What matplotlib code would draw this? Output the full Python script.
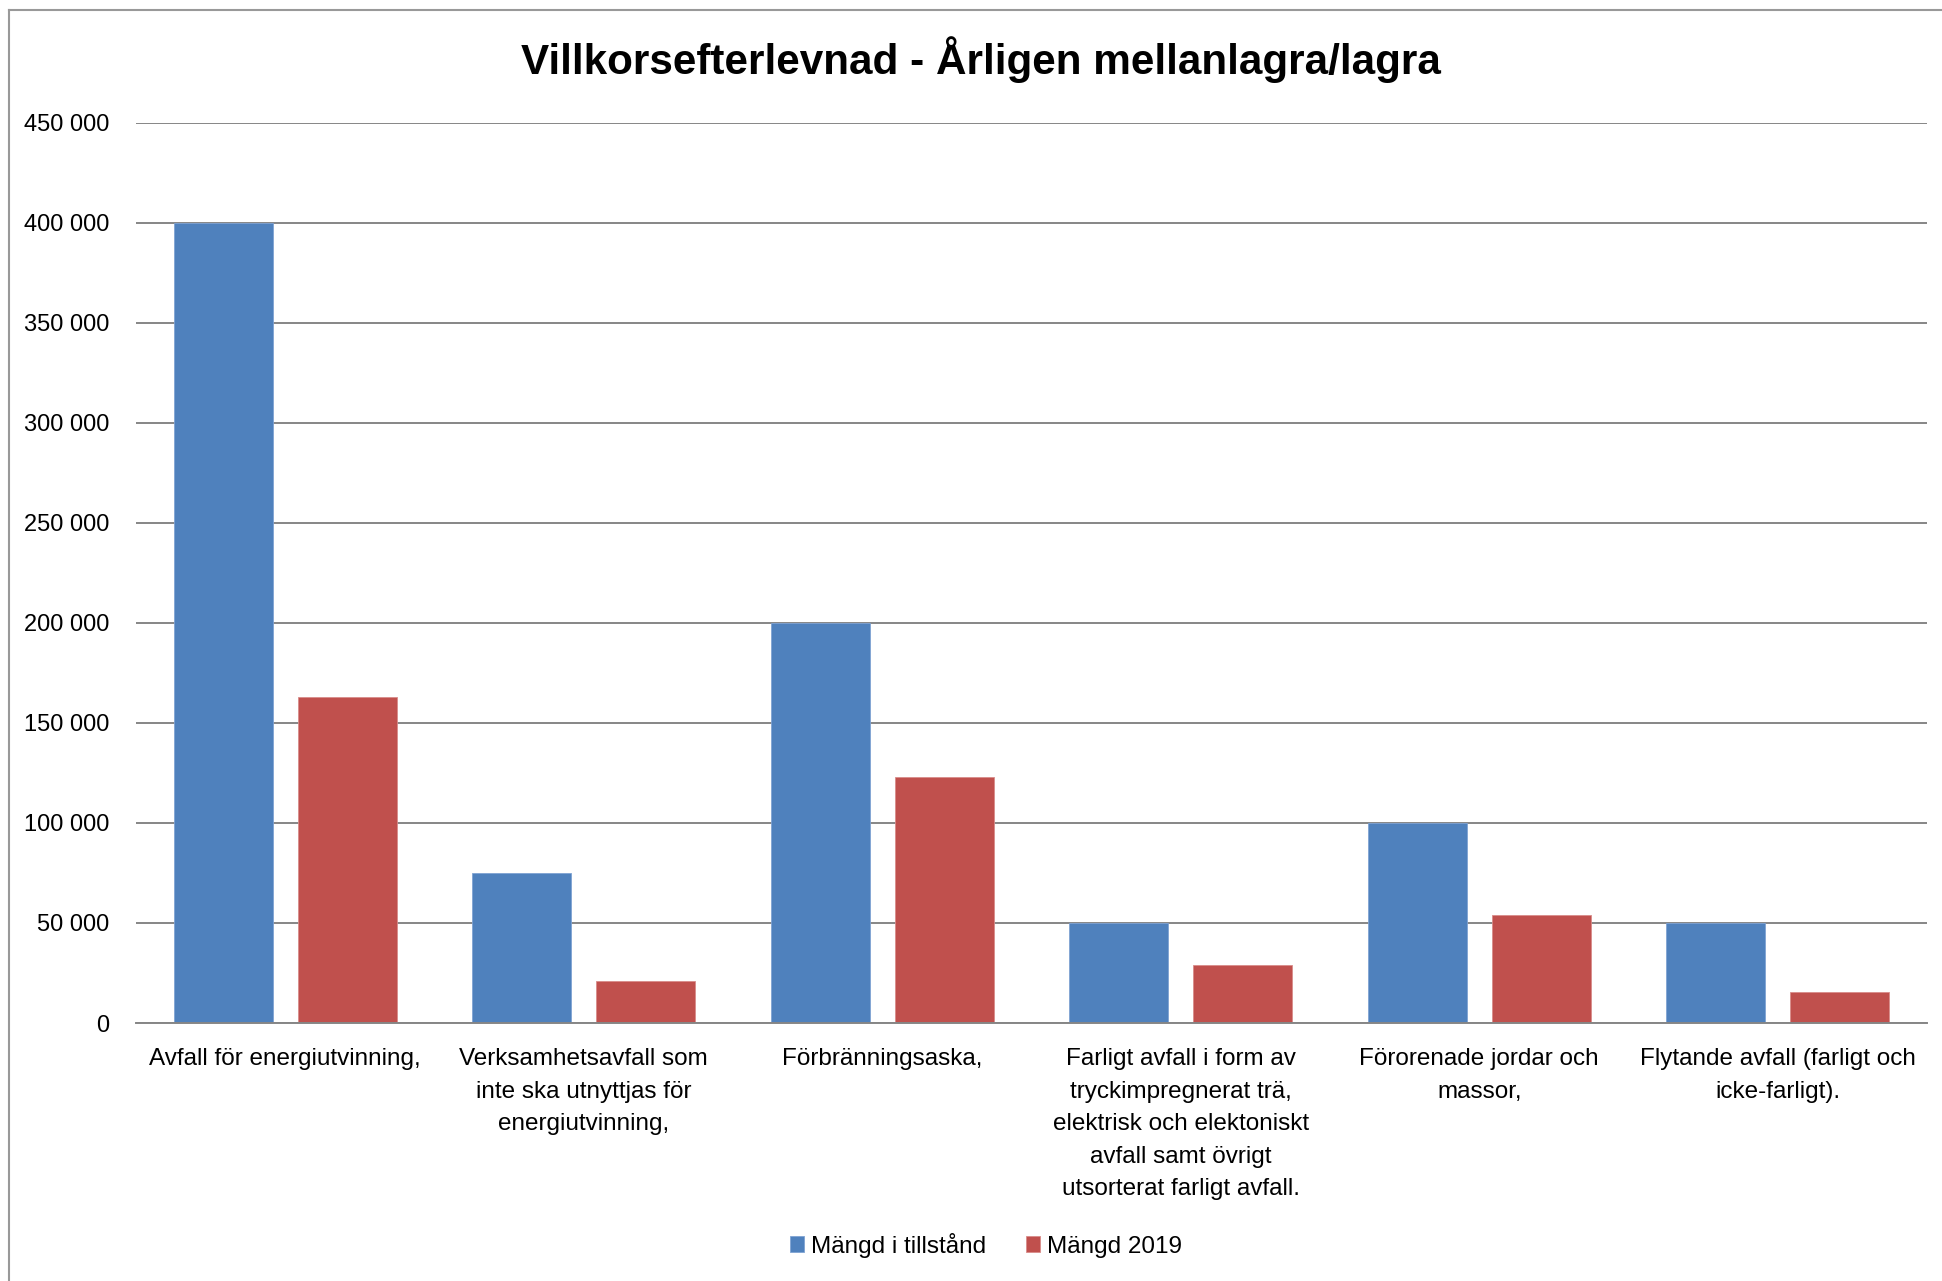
import matplotlib
matplotlib.use("Agg")
import matplotlib.pyplot as plt
from matplotlib.lines import Line2D
from matplotlib.ticker import FuncFormatter
import numpy as np

plt.rcParams['font.family'] = ['Liberation Sans', 'DejaVu Sans']

title = "Villkorsefterlevnad - Årligen mellanlagra/lagra"
categories = [
    "Avfall för energiutvinning,",
    "Verksamhetsavfall som\ninte ska utnyttjas för\nenergiutvinning,",
    "Förbränningsaska,",
    "Farligt avfall i form av\ntryckimpregnerat trä,\nelektrisk och elektoniskt\navfall samt övrigt\nutsorterat farligt avfall.",
    "Förorenade jordar och\nmassor,",
    "Flytande avfall (farligt och\nicke-farligt).",
]
series_names = ["Mängd i tillstånd", "Mängd 2019"]
mangd_tillstand = [400000, 75000, 200000, 50000, 100000, 50000]
mangd_2019 = [163000, 20800, 123000, 29000, 54000, 15700]
yticks = [0, 50000, 100000, 150000, 200000, 250000, 300000, 350000, 400000, 450000]

W, H = 1942, 1281
fig = plt.figure(figsize=(W / 100, H / 100), dpi=100)
ax = fig.add_axes([136 / W, 1 - 1023 / H, (1927 - 136) / W, (1023 - 122.7) / H])

x = np.arange(len(categories))
bw = 0.332
off = 0.208
b1 = ax.bar(x - off, mangd_tillstand, bw, color="#4F81BD", edgecolor="#7FA3D3", linewidth=0.6,
            label=series_names[0], zorder=3)
b2 = ax.bar(x + off, mangd_2019, bw, color="#C0504D", edgecolor="#D98C8A", linewidth=0.6,
            label=series_names[1], zorder=3)

ax.set_xlim(-0.5, len(categories) - 0.5)
ax.set_ylim(0, 450000)
ax.set_yticks(yticks)
ax.yaxis.set_major_formatter(FuncFormatter(lambda v, p: f"{int(v):,}".replace(",", " ")))
ax.grid(axis="y", color="#868686", linewidth=1.4, zorder=0)
ax.set_axisbelow(True)
for s in ["top", "right", "left"]:
    ax.spines[s].set_visible(False)
ax.spines["bottom"].set_color("#868686")
ax.spines["bottom"].set_linewidth(1.4)
ax.spines["bottom"].set_zorder(4)
ax.tick_params(axis="y", length=0, pad=19, labelsize=17, colors="#000000")
ax.tick_params(axis="x", length=0, pad=18, labelsize=17.5)
ax.set_xticks(x)
ax.set_xticklabels(categories, linespacing=1.62, ha="center", va="top")

fig.text(981 / W, 1 - 60 / H, title, ha="center", va="center", fontsize=30.4, fontweight="bold")

leg = fig.legend(handles=[b1, b2], labels=series_names, loc="center", bbox_to_anchor=(986 / W, 1 - 1245 / H),
                 ncol=2, frameon=False, fontsize=17.5, handlelength=0.6, handleheight=0.6,
                 handletextpad=0.3, columnspacing=1.6)

# outer chart border (left and top visible)
fig.add_artist(Line2D([9 / W, 9 / W], [0, 1 - 10 / H], color="#999999", linewidth=1.5))
fig.add_artist(Line2D([9 / W, 1], [1 - 10 / H, 1 - 10 / H], color="#999999", linewidth=1.5))

fig.savefig("out.png", dpi=100)
